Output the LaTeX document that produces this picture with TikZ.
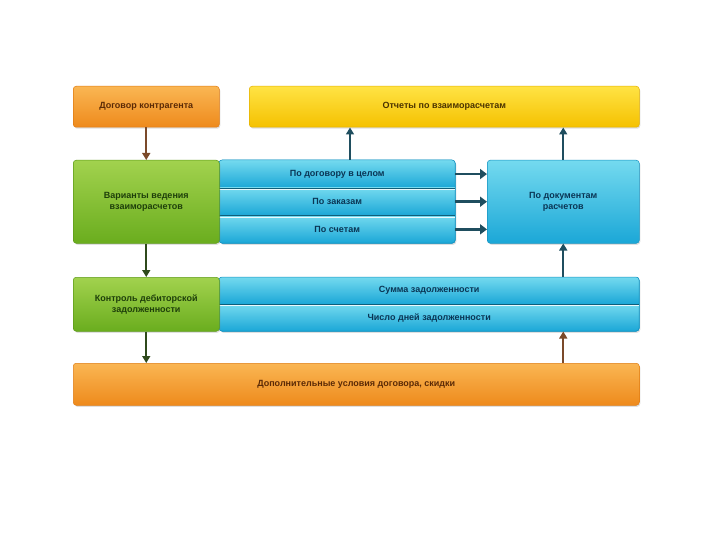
\documentclass[tikz,border=0pt]{standalone}
\usepackage{fontspec}
\setmainfont{Liberation Sans}
\usetikzlibrary{shadows,arrows.meta}
\definecolor{orT}{HTML}{FAB653}
\definecolor{orB}{HTML}{EE8A1C}
\definecolor{orD}{HTML}{DF7B12}
\definecolor{orX}{HTML}{5B2A06}
\definecolor{yeT}{HTML}{FFE344}
\definecolor{yeB}{HTML}{F5C100}
\definecolor{yeD}{HTML}{E3B000}
\definecolor{yeX}{HTML}{4A3300}
\definecolor{grT}{HTML}{A2D24E}
\definecolor{grB}{HTML}{6AAD1E}
\definecolor{grD}{HTML}{5C9A18}
\definecolor{grX}{HTML}{1E3F0A}
\definecolor{cyT}{HTML}{74DAEF}
\definecolor{cyB}{HTML}{1BA7D7}
\definecolor{cyD}{HTML}{1592C0}
\definecolor{cyX}{HTML}{0A3554}
\definecolor{arBr}{HTML}{7B4A2A}
\definecolor{arGr}{HTML}{2F4A1C}
\definecolor{arTe}{HTML}{1F4E5F}
\definecolor{divC}{HTML}{0F5E7A}
\begin{document}
\begin{tikzpicture}[x=1pt,y=-1pt,
  box/.style={rounded corners=3pt, anchor=north west, inner sep=0pt,
    drop shadow={shadow xshift=1pt, shadow yshift=-1.5pt, opacity=0.25},
    font=\bfseries\fontsize{9}{11}\selectfont, align=center, line width=0.5pt},
  orangebox/.style={box, top color=orT, bottom color=orB, draw=orD, text=orX},
  yellowbox/.style={box, top color=yeT, bottom color=yeB, draw=yeD, text=yeX},
  greenbox/.style={box, top color=grT, bottom color=grB, draw=grD, text=grX},
  cyanbox/.style={box, top color=cyT, bottom color=cyB, draw=cyD, text=cyX},
  rowshade/.style={top color=cyT, bottom color=cyB},
  rowtext/.style={anchor=north west, inner sep=0pt, text=cyX,
    font=\bfseries\fontsize{9}{11}\selectfont, align=center},
  divline/.style={draw=divC, line width=0.9pt},
  hiline/.style={draw=white!85!cyT, line width=0.6pt},
  arr/.style={line width=1.6pt, -{Triangle[length=7pt,width=8pt]}},
  harr/.style={line width=2.8pt, -{Triangle[length=7pt,width=10pt]}, draw=arTe}
]
\useasboundingbox (0,0) rectangle (720,540);

% top row
\node[orangebox, minimum width=146pt, minimum height=41pt] (dog) at (73,86) {Договор контрагента};
\node[yellowbox, minimum width=390pt, minimum height=41pt] (rep) at (249,86) {Отчеты по взаиморасчетам};

% second row: cyan stack
\node[cyanbox, minimum width=236pt, minimum height=83pt] (stack) at (219,160) {};
\begin{scope}
  \clip[rounded corners=3pt] (219,160) rectangle (455,243);
  \shade[rowshade] (219,160) rectangle (455,187.7);
  \shade[rowshade] (219,187.7) rectangle (455,215.3);
  \shade[rowshade] (219,215.3) rectangle (455,243);
\end{scope}
\draw[draw=cyD, line width=0.5pt, rounded corners=3pt] (219,160) rectangle (455,243);
\node[rowtext, minimum width=236pt, minimum height=27.7pt] (r1) at (219,160) {По договору в целом};
\node[rowtext, minimum width=236pt, minimum height=27.6pt] (r2) at (219,187.7) {По заказам};
\node[rowtext, minimum width=236pt, minimum height=27.7pt] (r3) at (219,215.3) {По счетам};
\draw[divline] (r1.south west) -- (r1.south east);
\draw[hiline] ([yshift=-1.3pt]r1.south west) -- ([yshift=-1.3pt]r1.south east);
\draw[divline] (r2.south west) -- (r2.south east);
\draw[hiline] ([yshift=-1.3pt]r2.south west) -- ([yshift=-1.3pt]r2.south east);

\node[greenbox, minimum width=146pt, minimum height=83pt] (var) at (73,160) {Варианты ведения\\взаиморасчетов};
\node[cyanbox, minimum width=152pt, minimum height=83pt] (docs) at (487,160) {По документам\\расчетов};

% third row
\node[cyanbox, minimum width=420pt, minimum height=54pt] (debt) at (219,277) {};
\begin{scope}
  \clip[rounded corners=3pt] (219,277) rectangle (639,331);
  \shade[rowshade] (219,277) rectangle (639,304);
  \shade[rowshade] (219,304) rectangle (639,331);
\end{scope}
\draw[draw=cyD, line width=0.5pt, rounded corners=3pt] (219,277) rectangle (639,331);
\node[rowtext, minimum width=420pt, minimum height=27pt] (s1) at (219,277) {Сумма задолженности};
\node[rowtext, minimum width=420pt, minimum height=27pt] (s2) at (219,304) {Число дней задолженности};
\draw[divline] (s1.south west) -- (s1.south east);
\draw[hiline] ([yshift=-1.3pt]s1.south west) -- ([yshift=-1.3pt]s1.south east);

\node[greenbox, minimum width=146pt, minimum height=54pt] (ctrl) at (73,277) {Контроль дебиторской\\задолженности};

% bottom row
\node[orangebox, minimum width=566pt, minimum height=42pt] (add) at (73,363) {Дополнительные условия договора, скидки};

% arrows
\draw[arr, draw=arBr] (dog.south) -- (var.north);
\draw[arr, draw=arGr] (var.south) -- (ctrl.north);
\draw[arr, draw=arGr] (ctrl.south) -- (add.north -| ctrl.south);
\draw[arr, draw=arTe] (stack.north -| 350,0) -- (rep.south -| 350,0);
\draw[arr, draw=arTe] (docs.north) -- (rep.south -| docs.north);
\draw[arr, draw=arTe] (debt.north -| docs.south) -- (docs.south);
\draw[arr, draw=arBr] (add.north -| docs.south) -- (debt.south -| docs.south);
\draw[harr] (r1.east) -- (r1.east -| docs.west);
\draw[harr] (r2.east) -- (r2.east -| docs.west);
\draw[harr] (r3.east) -- (r3.east -| docs.west);
\end{tikzpicture}
\end{document}
